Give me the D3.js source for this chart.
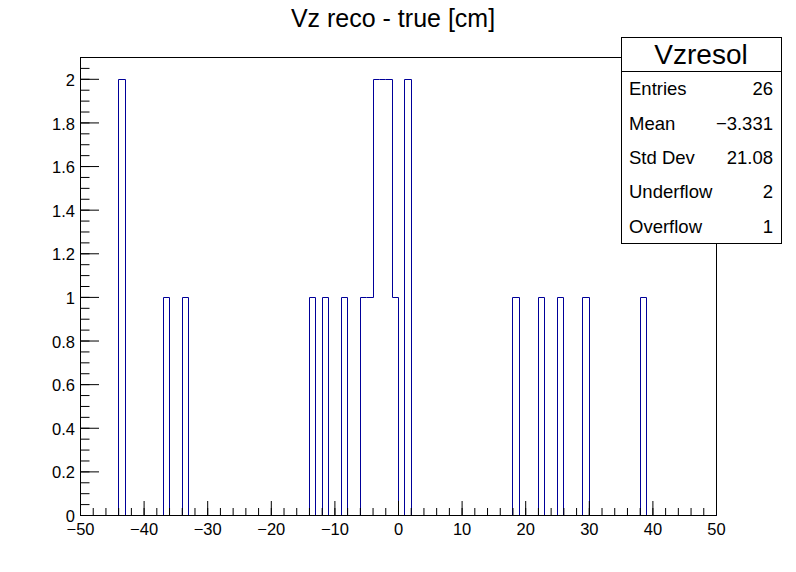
<!DOCTYPE html>
<html>
<head>
<meta charset="utf-8">
<script src="https://cdn.jsdelivr.net/npm/d3@7"></script>
<style>
  body { margin: 0; background: #fff; }
  svg { display: block; font-family: "Liberation Sans", Arial, sans-serif; }
</style>
</head>
<body>
<div id="wrapper"></div>
<script>
// histogram Vzresol: 100 bins of width 1 from -50 to 50
const binLowEdges = [
  -50, -49, -48, -47, -46, -45, -44, -43, -42, -41,
  -40, -39, -38, -37, -36, -35, -34, -33, -32, -31,
  -30, -29, -28, -27, -26, -25, -24, -23, -22, -21,
  -20, -19, -18, -17, -16, -15, -14, -13, -12, -11,
  -10,  -9,  -8,  -7,  -6,  -5,  -4,  -3,  -2,  -1,
    0,   1,   2,   3,   4,   5,   6,   7,   8,   9,
   10,  11,  12,  13,  14,  15,  16,  17,  18,  19,
   20,  21,  22,  23,  24,  25,  26,  27,  28,  29,
   30,  31,  32,  33,  34,  35,  36,  37,  38,  39,
   40,  41,  42,  43,  44,  45,  46,  47,  48,  49
]
const binCounts = [
  0, 0, 0, 0, 0, 0, 2, 0, 0, 0,
  0, 0, 0, 1, 0, 0, 1, 0, 0, 0,
  0, 0, 0, 0, 0, 0, 0, 0, 0, 0,
  0, 0, 0, 0, 0, 0, 1, 0, 1, 0,
  0, 1, 0, 0, 1, 1, 2, 2, 2, 1,
  0, 2, 0, 0, 0, 0, 0, 0, 0, 0,
  0, 0, 0, 0, 0, 0, 0, 0, 1, 0,
  0, 0, 1, 0, 0, 1, 0, 0, 0, 1,
  0, 0, 0, 0, 0, 0, 0, 0, 1, 0,
  0, 0, 0, 0, 0, 0, 0, 0, 0, 0
]
const binWidth = 1
const xDomain = [-50, 50]
const yDomain = [0, 2.1]

const xTickValues = [-50, -40, -30, -20, -10, 0, 10, 20, 30, 40, 50]
const yTickValues = [0, 0.2, 0.4, 0.6, 0.8, 1, 1.2, 1.4, 1.6, 1.8, 2]

const titleText = "Vz reco - true [cm]"
const statsName = "Vzresol"
const statLabels = ["Entries", "Mean", "Std Dev", "Underflow", "Overflow"]
const statValues = ["26", "\u22123.331", "21.08", "2", "1"]

function drawHistogram(){
  let dimensions = {
    width: 796,
    height: 572,
    margin: { top: 57, right: 80, bottom: 57, left: 80 },
  }
  dimensions.boundedWidth = dimensions.width - dimensions.margin.left - dimensions.margin.right
  dimensions.boundedHeight = dimensions.height - dimensions.margin.top - dimensions.margin.bottom

  const wrapper = d3.select("#wrapper").append("svg")
    .attr("width", dimensions.width)
    .attr("height", dimensions.height)

  // scales work in page pixels so lines land on whole pixels
  const xScale = d3.scaleLinear()
    .domain(xDomain)
    .range([dimensions.margin.left, dimensions.margin.left + dimensions.boundedWidth])
  const yScale = d3.scaleLinear()
    .domain(yDomain)
    .range([dimensions.margin.top + dimensions.boundedHeight, dimensions.margin.top])

  const px = v => Math.round(v) + 0.5

  // frame
  wrapper.append("rect")
    .attr("x", px(xScale(xDomain[0])))
    .attr("y", px(yScale(yDomain[1])))
    .attr("width", Math.round(xScale(xDomain[1])) - Math.round(xScale(xDomain[0])))
    .attr("height", Math.round(yScale(yDomain[0])) - Math.round(yScale(yDomain[1])))
    .attr("fill", "none")
    .attr("stroke", "#000")
    .attr("stroke-width", 1)

  // step outline of the histogram
  const pts = [[xScale(binLowEdges[0]), yScale(0)]]
  binLowEdges.forEach((lo, i) => {
    const y = yScale(binCounts[i])
    pts.push([xScale(lo), y])
    pts.push([xScale(lo + binWidth), y])
  })
  pts.push([xScale(binLowEdges[binLowEdges.length - 1] + binWidth), yScale(0)])

  const lineGenerator = d3.line()
    .x(d => px(d[0]))
    .y(d => px(d[1]))

  wrapper.append("path")
    .attr("d", lineGenerator(pts))
    .attr("fill", "none")
    .attr("stroke", "#000099")
    .attr("stroke-width", 1)

  const y0 = Math.round(yScale(0))
  const x0 = Math.round(xScale(xDomain[0]))

  // x axis: minor ticks then major ticks with labels
  wrapper.append("g")
    .attr("transform", `translate(0,${y0})`)
    .call(d3.axisBottom(xScale).tickValues(d3.range(-50, 50.1, 2)).tickSize(-7).tickFormat(""))
    .call(g => g.select(".domain").remove())

  const xAxis = wrapper.append("g")
    .attr("transform", `translate(0,${y0})`)
    .call(d3.axisBottom(xScale).tickValues(xTickValues).tickSizeInner(-14).tickSizeOuter(0).tickPadding(8).tickFormat(d3.format("d")))
  xAxis.selectAll("text").attr("font-size", 16.5).attr("fill", "#000").attr("font-family", null)

  // y axis
  wrapper.append("g")
    .attr("transform", `translate(${x0},0)`)
    .call(d3.axisLeft(yScale).tickValues(d3.range(0, 2.11, 0.05)).tickSize(-9.5).tickFormat(""))
    .call(g => g.select(".domain").remove())

  const yAxis = wrapper.append("g")
    .attr("transform", `translate(${x0},0)`)
    .call(d3.axisLeft(yScale).tickValues(yTickValues).tickSizeInner(-19).tickSizeOuter(0).tickPadding(5).tickFormat(d3.format("~g")))
  yAxis.selectAll("text").attr("font-size", 16.5).attr("fill", "#000").attr("dy", "0.4em").attr("font-family", null)

  // title
  wrapper.append("text")
    .attr("x", 393)
    .attr("y", 27)
    .attr("text-anchor", "middle")
    .attr("font-size", 25)
    .text(titleText)

  // stats box
  const box = { x: 621, y: 37, w: 160, h: 206 }
  const rowH = box.h / (statLabels.length + 1)
  const stats = wrapper.append("g")
  stats.append("rect")
    .attr("x", box.x + 0.5).attr("y", box.y + 0.5)
    .attr("width", box.w).attr("height", box.h)
    .attr("fill", "#fff").attr("stroke", "#000")
  stats.append("line")
    .attr("x1", box.x).attr("x2", box.x + box.w)
    .attr("y1", px(box.y + rowH)).attr("y2", px(box.y + rowH))
    .attr("stroke", "#000")
  stats.append("text")
    .attr("x", box.x + box.w / 2)
    .attr("y", box.y + rowH / 2 + 10)
    .attr("text-anchor", "middle")
    .attr("font-size", 28)
    .text(statsName)

  statLabels.forEach((lab, i) => {
    const yc = box.y + rowH * (i + 1.5)
    stats.append("text")
      .attr("x", box.x + 8)
      .attr("y", yc + 6.8)
      .attr("font-size", 18.5)
      .text(lab)
    stats.append("text")
      .attr("x", box.x + box.w - 8)
      .attr("y", yc + 6.8)
      .attr("text-anchor", "end")
      .attr("font-size", 18.5)
      .text(statValues[i])
  })
}

drawHistogram()
</script>
</body>
</html>
